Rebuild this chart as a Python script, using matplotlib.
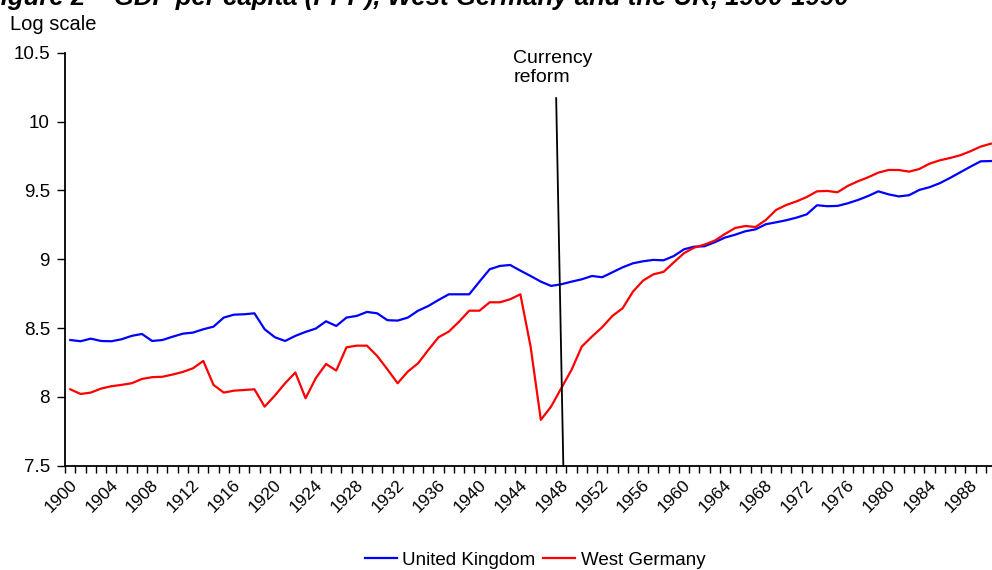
import numpy as np
import matplotlib
matplotlib.use("Agg")
import matplotlib.pyplot as plt
from matplotlib.transforms import ScaledTranslation

plt.rcParams['font.family'] = ['Liberation Sans', 'DejaVu Sans']

years = np.arange(1900, 1991)

# log GDP per capita
uk = [8.413, 8.404, 8.423, 8.406, 8.404, 8.418, 8.443, 8.457, 8.406, 8.413,
      8.437, 8.459, 8.467, 8.491, 8.510, 8.576, 8.597, 8.600, 8.607, 8.491,
      8.433, 8.406, 8.443, 8.472, 8.496, 8.549, 8.515, 8.576, 8.588, 8.617,
      8.607, 8.557, 8.554, 8.576, 8.626, 8.660, 8.704, 8.745, 8.745, 8.745,
      8.837, 8.927, 8.951, 8.958, 8.917, 8.878, 8.837, 8.806, 8.818, 8.837,
      8.854, 8.878, 8.869, 8.905, 8.941, 8.970, 8.985, 8.995, 8.992, 9.023,
      9.072, 9.091, 9.094, 9.123, 9.157, 9.178, 9.203, 9.217, 9.254, 9.268,
      9.283, 9.302, 9.326, 9.392, 9.385, 9.387, 9.406, 9.430, 9.459, 9.493,
      9.471, 9.456, 9.465, 9.503, 9.523, 9.552, 9.590, 9.631, 9.672, 9.711,
      9.713]

wgermany = [8.055, 8.021, 8.031, 8.060, 8.077, 8.087, 8.099, 8.130, 8.143, 8.146,
            8.162, 8.181, 8.208, 8.261, 8.087, 8.031, 8.045, 8.050, 8.055, 7.929,
            8.010, 8.099, 8.177, 7.990, 8.136, 8.239, 8.191, 8.360, 8.372, 8.372,
            8.297, 8.200, 8.099, 8.184, 8.244, 8.341, 8.433, 8.474, 8.546, 8.626,
            8.626, 8.687, 8.687, 8.709, 8.745, 8.365, 7.833, 7.929, 8.063, 8.196,
            8.365, 8.438, 8.506, 8.588, 8.644, 8.764, 8.845, 8.890, 8.908, 8.977,
            9.044, 9.084, 9.106, 9.135, 9.183, 9.227, 9.241, 9.234, 9.285, 9.358,
            9.394, 9.420, 9.452, 9.493, 9.496, 9.486, 9.532, 9.566, 9.595, 9.629,
            9.648, 9.648, 9.636, 9.655, 9.694, 9.718, 9.735, 9.755, 9.784, 9.818,
            9.839]

y_ticks = [7.5, 8, 8.5, 9, 9.5, 10, 10.5]
y_labels = ['7.5', '8', '8.5', '9', '9.5', '10', '10.5']
label_years = np.arange(1900, 1989, 4)
reform_year = 1948

W, H = 992, 570
fig = plt.figure(figsize=(W / 100, H / 100), dpi=100)
# axes runs a little past the right edge, as in the cropped original
ax = fig.add_axes([65.2 / W, 1 - 465.7 / H, (996 - 65.2) / W, 413 / H])

ax.plot(years, uk, color='#0000FF', lw=1.6, label='United Kingdom')
ax.plot(years, wgermany, color='#FF0000', lw=1.6, label='West Germany')

# currency reform marker (slightly slanted, like the hand drawn line)
ax.plot([reform_year - 0.5, reform_year + 0.2], [10.17, 7.5], color='black', lw=1.3,
        clip_on=False)
ax.text(reform_year - 4.7, 10.26, 'Currency\nreform', fontsize=14, ha='left',
        va='bottom', linespacing=1.1)

ax.set_xlim(years[0] - 0.5, years[-1] + 0.5)
ax.set_ylim(7.5, 10.5)
ax.set_yticks(y_ticks)
ax.set_yticklabels(y_labels, fontsize=13.5)

# category boundaries carry the small ticks, labels sit on category centres
ax.set_xticks(np.arange(years[0] - 0.5, years[-1] + 1.0, 1.0))
ax.set_xticklabels([])
ax.set_xticks(label_years, minor=True)
ax.set_xticklabels([str(y) for y in label_years], minor=True, fontsize=12.5,
                   rotation=45, ha='right', va='center', rotation_mode='anchor')
ax.tick_params(axis='x', which='major', length=5, width=1, direction='out')
ax.tick_params(axis='x', which='minor', length=0, pad=12)
ax.tick_params(axis='y', length=6, width=1, direction='out', pad=5)
for lab in ax.get_xticklabels(minor=True):
    lab.set_transform(lab.get_transform() + ScaledTranslation(3 / 72, 0, fig.dpi_scale_trans))

for s in ['top', 'right']:
    ax.spines[s].set_visible(False)
ax.spines['left'].set_linewidth(1.3)
ax.spines['bottom'].set_linewidth(1.3)

fig.text(10 / W, 1 - 30 / H, 'Log scale', fontsize=14.5, va='baseline')
fig.text(-15 / W, 1 - 5 / H,
         'Figure 2 \u2013 GDP per capita (PPP), West Germany and the UK, 1900-1990',
         fontsize=18.5, fontweight='bold', fontstyle='italic', va='baseline')

fig.legend(loc='center', bbox_to_anchor=(535 / W, 1 - 560 / H), ncol=2, frameon=False,
           fontsize=13.5, handlelength=1.7, handletextpad=0.3, columnspacing=0.4)

fig.savefig('out.png', dpi=100)
